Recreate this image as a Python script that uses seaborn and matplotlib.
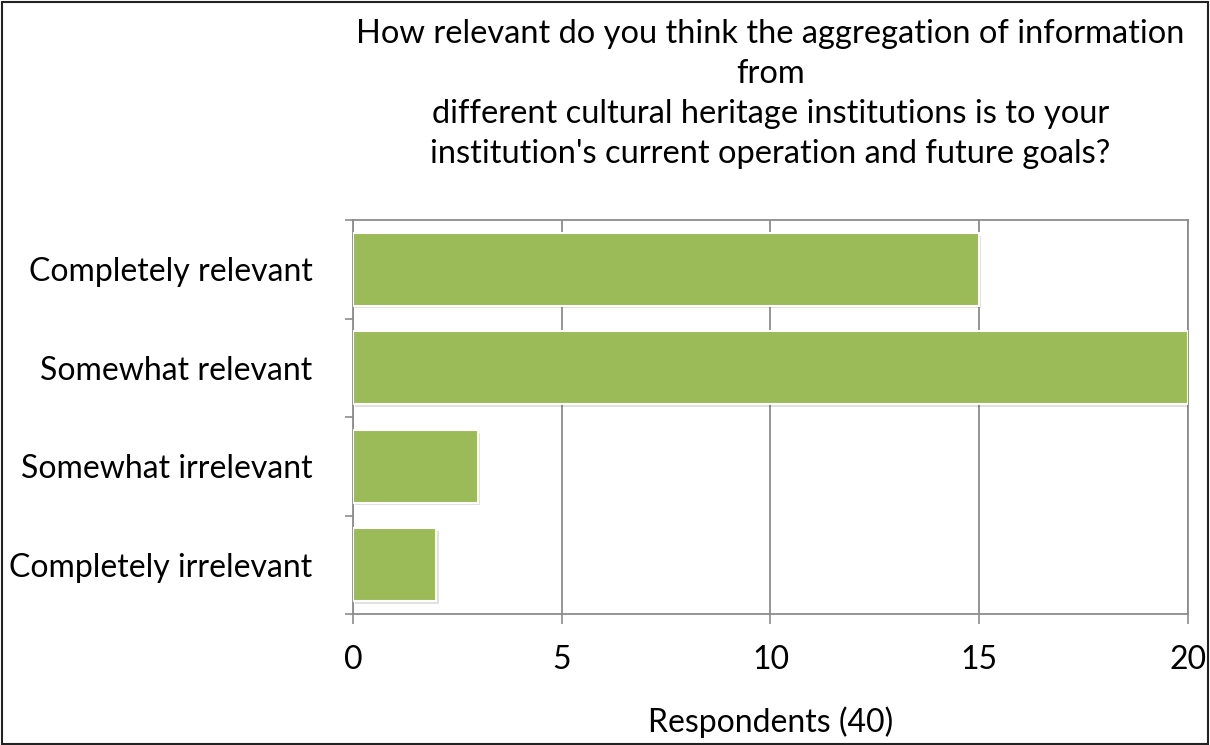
import matplotlib
matplotlib.use("Agg")
import matplotlib.pyplot as plt
import matplotlib.patheffects as pe
import seaborn as sns
import pandas as pd
from matplotlib.patches import Rectangle

# Data
answers = ["Completely relevant", "Somewhat relevant", "Somewhat irrelevant", "Completely irrelevant"]
counts = [15, 20, 3, 2]
x_ticks = [0, 5, 10, 15, 20]

df = pd.DataFrame({"Answer": answers, "Count": counts})

sns.set_theme(style="white")
plt.rcParams["font.family"] = ["Lato", "DejaVu Sans"]
plt.rcParams["text.color"] = "black"
plt.rcParams["xtick.labelcolor"] = "black"
plt.rcParams["ytick.labelcolor"] = "black"
plt.rcParams["axes.labelcolor"] = "black"

fig = plt.figure(figsize=(12.1, 7.45), dpi=100)
ax = fig.add_axes([0.2917, 0.1758, 0.6901, 0.5289])

sns.barplot(x="Count", y="Answer", data=df, orient="h", color="#9BBB59",
            saturation=1, width=0.74, edgecolor="white", linewidth=1.5, ax=ax,
            zorder=3)

# subtle shadow like the original
for p in ax.patches:
    p.set_path_effects([pe.SimplePatchShadow(offset=(1.5, -2), alpha=0.12,
                                             shadow_rgbFace="black"), pe.Normal()])

grid_col = "#8c8c8c"
fs = 23
ax.set_xlim(0, 20)
ax.set_ylim(3.5, -0.5)
ax.set_xticks(x_ticks)
ax.set_xticklabels([str(t) for t in x_ticks], fontsize=fs)
ax.tick_params(axis="x", direction="out", length=7, width=1.2, color=grid_col,
               pad=15, bottom=True)
ax.xaxis.grid(True, color=grid_col, linewidth=1.3, zorder=0)
ax.set_axisbelow(True)

# category labels in the middle, tick marks on boundaries
ax.set_yticks(range(len(answers)))
ax.set_yticklabels(answers, fontsize=fs)
ax.tick_params(axis="y", which="major", length=0, pad=29)
ax.set_yticks([-0.5, 0.5, 1.5, 2.5, 3.5], minor=True)
ax.tick_params(axis="y", which="minor", direction="out", length=6, width=1.2,
               color=grid_col, left=True)

for s in ax.spines.values():
    s.set_color(grid_col)
    s.set_linewidth(1.3)

ax.set_ylabel("")
ax.set_xlabel("Respondents (40)", fontsize=fs, labelpad=23)

fig.text(0.6365, 0.975,
         "How relevant do you think the aggregation of information\nfrom\n"
         "different cultural heritage institutions is to your\n"
         "institution's current operation and future goals?",
         ha="center", va="top", fontsize=23.5, linespacing=1.42)

fig.patches.append(Rectangle((0.002, 0.002), 0.996, 0.995, transform=fig.transFigure,
                             fill=False, edgecolor="#222222", linewidth=1.5))

fig.savefig("out.png", dpi=100)
